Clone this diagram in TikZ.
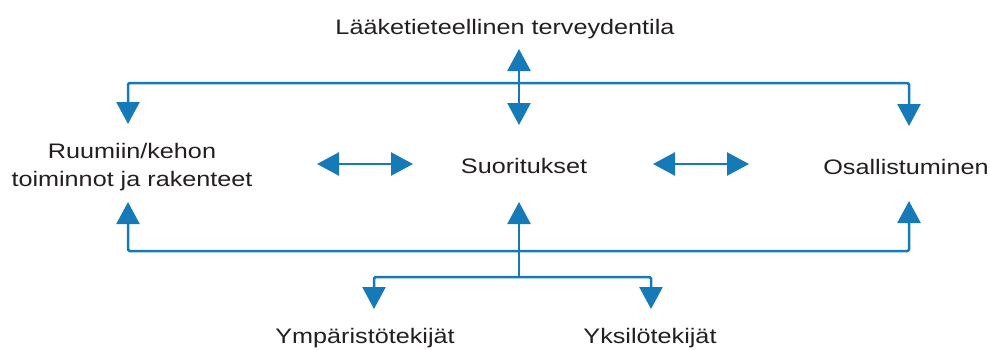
\documentclass[tikz,border=0pt]{standalone}
\usepackage{fontspec}
\setmainfont[FakeStretch=1.2]{Liberation Sans}
\usetikzlibrary{arrows.meta}
\definecolor{ablue}{RGB}{22,122,184}
\definecolor{tgray}{RGB}{35,31,32}
\tikzset{
  lbl/.style={text=tgray, font=\fontsize{21}{28}\selectfont, inner sep=0pt},
  conn/.style={draw=ablue, line width=2.5pt, rounded corners=1.5pt,
    arrows={Triangle[length=22pt,width=23pt]-Triangle[length=22pt,width=23pt]}},
  conn1/.style={draw=ablue, line width=2.5pt, rounded corners=1.5pt,
    -{Triangle[length=22pt,width=23pt]}},
  plain/.style={draw=ablue, line width=2.5pt, rounded corners=1.5pt}
}
\begin{document}
\begin{tikzpicture}[x=1pt,y=-1pt]
\useasboundingbox (0,0) rectangle (990,349);
% text nodes
\node[lbl, anchor=base] (H) at (505,34) {Lääketieteellinen terveydentila};
\node[lbl, anchor=base, align=center] (B) at (132,186) {Ruumiin/kehon\\toiminnot ja rakenteet};
\node[lbl, anchor=base] (S) at (524,173) {Suoritukset};
\node[lbl, anchor=base] (O) at (906,174) {Osallistuminen};
\node[lbl, anchor=base] (Y) at (365,343) {Ympäristötekijät};
\node[lbl, anchor=base] (K) at (650,343) {Yksilötekijät};
% coordinates
\coordinate (htip) at (519,49);
\coordinate (stop) at (519,125);
\coordinate (btop) at (128,124);
\coordinate (otop) at (909,126);
\coordinate (u1) at (128,83);
\coordinate (u2) at (909,83);
\coordinate (bbot) at (128,202);
\coordinate (sbot) at (519,202);
\coordinate (obot) at (909,201);
\coordinate (l1) at (128,251);
\coordinate (l2) at (909,251);
\coordinate (lm) at (519,251);
\coordinate (bm) at (519,277);
\coordinate (yl) at (374,277);
\coordinate (yr) at (651,277);
\coordinate (ytip) at (374,309);
\coordinate (ktip) at (651,309);
\coordinate (a1) at (317,164);
\coordinate (a2) at (413,164);
\coordinate (a3) at (653,164);
\coordinate (a4) at (749,164);
% connectors
\draw[conn] (htip) -- (stop);
\draw[conn] (btop) -- (u1) -- (u2) -- (otop);
\draw[conn] (bbot) -- (l1) -- (l2) -- (obot);
\draw[conn1] (lm) -- (sbot);
\draw[plain] (lm) -- (bm);
\draw[conn] (ytip) -- (yl) -- (yr) -- (ktip);
\draw[conn] (a1) -- (a2);
\draw[conn] (a3) -- (a4);
\end{tikzpicture}
\end{document}
